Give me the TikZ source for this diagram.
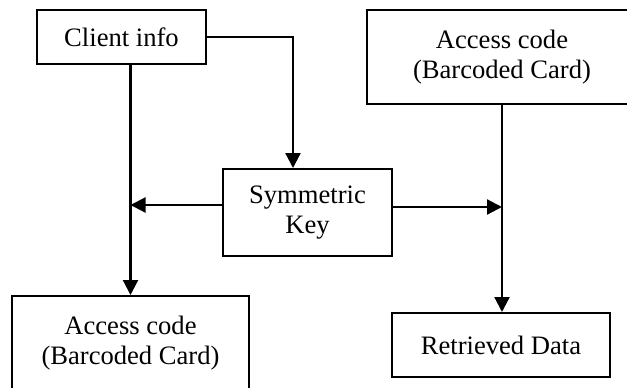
\documentclass[tikz,border=0pt]{standalone}
\usepackage{fontspec}
\setmainfont{Liberation Serif}
\usepackage{tikz}
\usetikzlibrary{arrows.meta,positioning,calc}

\tikzset{
  box/.style={draw, rectangle, line width=1pt, inner sep=0pt, align=center,
    font=\fontsize{13.3}{15}\selectfont},
  link/.style={line width=1.1pt, -{Triangle[width=7.5pt,length=7.5pt]}},
  plain/.style={line width=1.1pt}
}

\begin{document}
\begin{tikzpicture}[x=0.5pt,y=-0.5pt]
  \useasboundingbox (0,0) rectangle (627,387);
  \clip (0,0) rectangle (627,387);
  \fill[white] (0,0) rectangle (627,387);

  % boxes
  \node[box, minimum width=84.5pt, minimum height=27pt] (client) at (121.5,37) {Client info};
  \node[box, minimum width=84.5pt, minimum height=43.5pt] (symkey) at (307.5,212.5) {Symmetric\\Key};
  \node[box, minimum width=135pt, minimum height=47pt] (cardtop) at (502,57) {Access code\\(Barcoded Card)};
  \node[box, minimum width=118.5pt, minimum height=47pt] (cardbot) at (130.5,343) {Access code\\(Barcoded Card)};
  \node[box, minimum width=109pt, minimum height=32pt] (data) at (501,345) {Retrieved Data};

  % connectors
  \draw[link] (cardbot.north |- client.south) -- (cardbot.north);
  \draw[link] (client.east) -| ([xshift=-7.25pt]symkey.north);
  \draw[link] ([yshift=3.75pt]symkey.west) -- ([yshift=3.75pt]symkey.west -| cardbot.north);
  \draw[link] ([yshift=2.75pt]symkey.east) -- ([yshift=2.75pt]symkey.east -| cardtop.south);
  \draw[link] (cardtop.south) -- (cardtop.south |- data.north);
\end{tikzpicture}
\end{document}
